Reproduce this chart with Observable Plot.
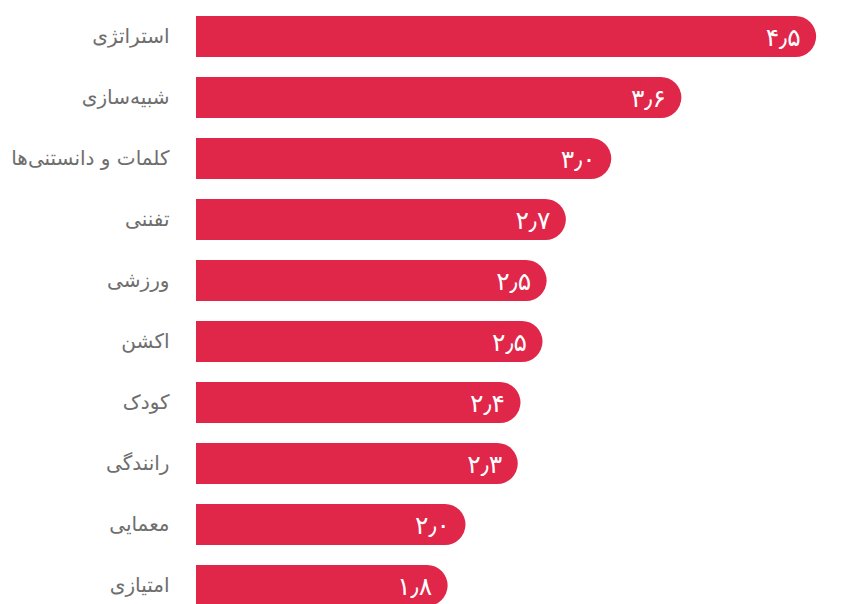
<!DOCTYPE html>
<html lang="fa">
<head>
<meta charset="utf-8">
<script src="https://cdn.jsdelivr.net/npm/d3@7"></script>
<script src="https://cdn.jsdelivr.net/npm/@observablehq/plot@0.6"></script>
<style>
  html, body { margin: 0; padding: 0; background: #fff; overflow: hidden; }
  #chart svg { display: block; }
</style>
</head>
<body>
<div id="chart"></div>
<script>
// Genre names (Persian)
const categories = ["استراتژی", "شبیه‌سازی", "کلمات و دانستنی‌ها", "تفننی", "ورزشی", "اکشن", "کودک", "رانندگی", "معمایی", "امتیازی"];
// Values
const values = [4.51, 3.53, 3.02, 2.69, 2.55, 2.52, 2.36, 2.34, 1.96, 1.83];
// Labels as printed on the bars
const valueLabels = ["۴٫۵", "۳٫۶", "۳٫۰", "۲٫۷", "۲٫۵", "۲٫۵", "۲٫۴", "۲٫۳", "۲٫۰", "۱٫۸"];

const data = categories.map((name, i) => ({name, value: values[i], label: valueLabels[i]}));

const barColor = "#e02649";

const chart = Plot.plot({
  width: 858,
  height: 640,
  margin: 0,
  style: {background: "#fff", overflow: "visible"},
  x: {domain: [0, 5], range: [196, 196 + 137.5 * 5], axis: null},
  y: {domain: categories, range: [-8.4, 629.2], padding: 0.335, axis: null},
  marks: [
    Plot.barX(data, {y: "name", x1: 0, x2: "value", fill: barColor, rx: 20.5}),
    Plot.barX(data, {y: "name", x1: 0, x2: d => d.value - 0.3, fill: barColor}),
    Plot.text(data, {
      y: "name", x: 0, text: "name", dx: -27, textAnchor: "end",
      fill: "#6e6e6e", fontSize: 20, fontFamily: "'DejaVu Sans', 'Noto Sans', sans-serif"
    }),
    Plot.text(data, {
      y: "name", x: "value", text: "label", dx: -16, dy: 1, textAnchor: "end",
      fill: "#ffffff", fontSize: 25, fontWeight: 500, fontFamily: "'DejaVu Sans', 'Noto Sans', sans-serif"
    })
  ]
});
document.getElementById("chart").append(chart);
</script>
</body>
</html>
